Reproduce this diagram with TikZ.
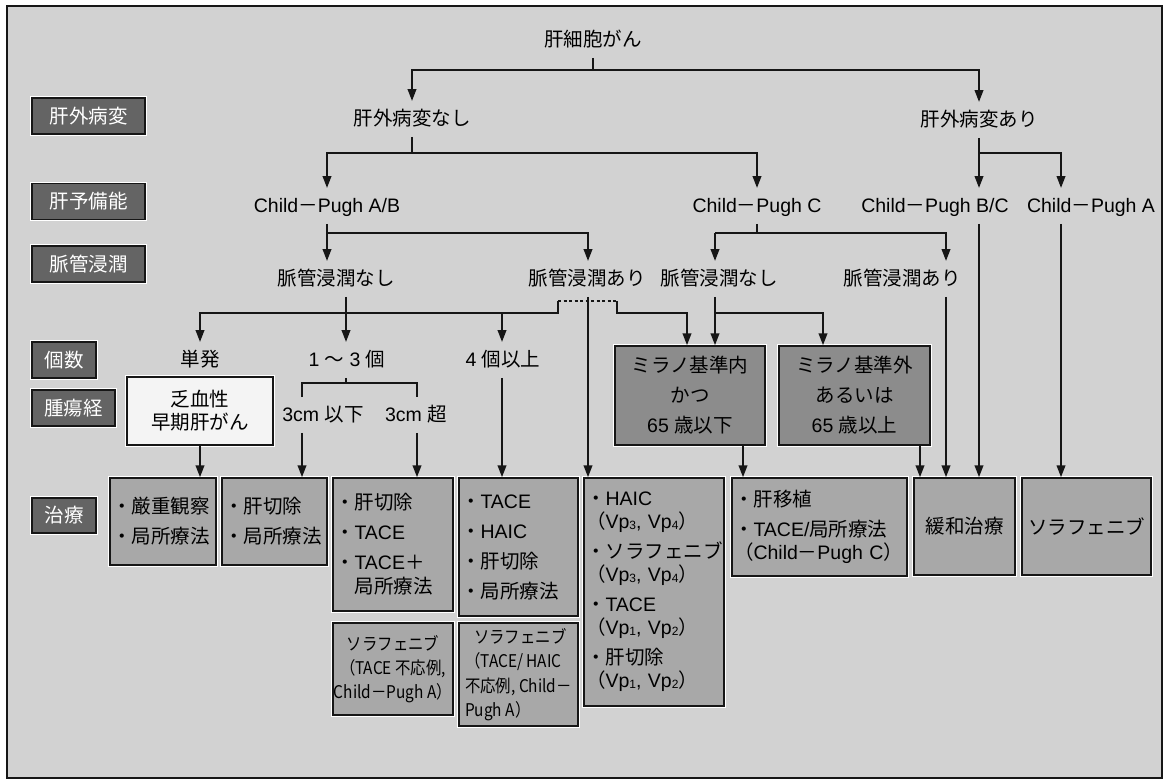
\documentclass[tikz,border=0pt]{standalone}
\usepackage{fontspec}
\setmainfont{Liberation Sans}
\newfontfamily\jp{Noto Sans CJK JP}
\newfontfamily\jpc[FakeStretch=0.88]{Noto Sans CJK JP}
\usetikzlibrary{arrows.meta}
\definecolor{bgc}{RGB}{210,210,210}
\definecolor{tboxc}{RGB}{168,168,168}
\definecolor{milc}{RGB}{140,140,140}
\definecolor{labc}{RGB}{100,100,100}
\definecolor{hypc}{RGB}{244,244,244}
\definecolor{linec}{RGB}{22,22,22}
\newcommand{\myfs}{\fontsize{19.5}{24}\selectfont}
\newcommand{\mysub}[1]{\raisebox{-1pt}{\fontsize{12}{12}\selectfont #1}}
\newcommand{\mydash}{{\jp －}}
\newcommand{\ltn}[1]{{\rmfamily #1}}
\begin{document}
\begin{tikzpicture}[x=1pt,y=-1pt,
  every node/.style={font=\myfs, text=black},
  lbl/.style={inner xsep=2pt, inner ysep=8pt, text height=16pt, text depth=3.5pt},
  jpl/.style={lbl, font=\myfs\jp},
  bx/.style={draw=linec, line width=1.4pt, preaction={draw=white, line width=3.6pt}, inner sep=0pt},
  side/.style={bx, fill=labc, text=white, font=\myfs\jp, minimum height=36pt},
  treat/.style={bx, fill=tboxc},
  ln/.style={line width=2.2pt, draw=linec},
  arr/.style={ln, -{Triangle[length=12pt,width=8.5pt]}},
  brdg/.style={line width=2.2pt, draw=linec, dash pattern=on 3pt off 2.5pt},
]
\useasboundingbox (0,0) rectangle (1166,782);
\fill[white] (0,0) rectangle (1166,782);
\draw[fill=bgc, draw=linec, line width=1.5pt] (7,6) rectangle (1162,778);

% left category labels
\node[side, minimum width=113pt] (L1) at (88.5,116) {肝外病変};
\node[side, minimum width=113pt] (L2) at (88.5,201.5) {肝予備能};
\node[side, minimum width=113pt] (L3) at (88.5,264) {脈管浸潤};
\node[side, minimum width=64pt] (L4) at (64,360) {個数};
\node[side, minimum width=83pt] (L5) at (73.5,408) {腫瘍経};
\node[side, minimum width=64pt, minimum height=35pt] (L6) at (64,515.5) {治療};

% decision labels
\node[jpl] (root) at (593,40) {肝細胞がん};
\node[jpl] (nashi1) at (412,119) {肝外病変なし};
\node[jpl] (ari1) at (979,120) {肝外病変あり};
\node[lbl] (cpab) at (327,206) {Child\mydash Pugh A/B};
\node[lbl] (cpc) at (757,206) {Child\mydash Pugh C};
\node[lbl] (cpbc) at (935,206) {Child\mydash Pugh B/C};
\node[lbl] (cpa) at (1091,206) {Child\mydash Pugh A};
\node[jpl] (vn1) at (336,279) {脈管浸潤なし};
\node[jpl] (va1) at (587,279) {脈管浸潤あり};
\node[jpl] (vn2) at (719,279) {脈管浸潤なし};
\node[jpl] (va2) at (902,279) {脈管浸潤あり};
\node[jpl] (tan) at (200,360) {単発};
\node[lbl] (n13) at (347,360) {1 {\jp ～} 3 {\jp 個}};
\node[lbl] (n4) at (503,360) {4 {\jp 個以上}};
\node[lbl] (le3) at (323,415) {3cm {\jp 以下}};
\node[lbl] (gt3) at (416,415) {3cm {\jp 超}};

% boxes
\node[bx, fill=hypc, minimum width=146pt, minimum height=68pt, align=center, font=\fontsize{19.5}{23}\selectfont\jp] (hypo) at (200,411) {乏血性\\早期肝がん};
\node[bx, fill=milc, minimum width=150pt, minimum height=99pt, align=center] (milin) at (690,395.5) {{\jp ミラノ基準内}\\[6pt]{\jp かつ}\\[6pt]65 {\jp 歳以下}};
\node[bx, fill=milc, minimum width=151pt, minimum height=99pt, align=center] (milout) at (854.5,395.5) {{\jp ミラノ基準外}\\[6pt]{\jp あるいは}\\[6pt]65 {\jp 歳以上}};

% treatment boxes
\node[treat, minimum width=106pt, minimum height=87pt, text width=102pt, inner xsep=2pt, align=left, font=\myfs\jp] (t1) at (163,521.5) {・厳重観察\\[6pt]・局所療法};
\node[treat, minimum width=105pt, minimum height=87pt, text width=101pt, inner xsep=2pt, align=left, font=\myfs\jp] (t2) at (274.5,521.5) {・肝切除\\[6pt]・局所療法};
\node[treat, minimum width=120pt, minimum height=133pt, text width=116pt, inner xsep=2pt, align=left, font=\myfs\jp] (t3) at (393,544.5) {・肝切除\\[6pt]・\ltn{TACE}\\[6pt]・\ltn{TACE}＋\\\hspace*{1em}局所療法};
\node[treat, minimum width=120pt, minimum height=92pt, align=center, font=\fontsize{17.5}{24}\selectfont\jpc] (t3b) at (393,669) {ソラフェニブ\\（TACE 不応例,\\Child－Pugh A）};
\node[treat, minimum width=119pt, minimum height=138pt, text width=115pt, inner xsep=2pt, align=left, font=\myfs\jp] (t4) at (518.5,547) {・\ltn{TACE}\\[6pt]・\ltn{HAIC}\\[6pt]・肝切除\\[6pt]・局所療法};
\node[treat, minimum width=119pt, minimum height=103pt, align=left, font=\fontsize{17.5}{24.5}\selectfont\jpc] (t4b) at (518.5,674.5) {\hspace*{9pt}ソラフェニブ\\（TACE/ HAIC\\不応例, Child－\\Pugh A）};
\node[treat, minimum width=140pt, minimum height=228pt, text width=136pt, inner xsep=2pt, align=left, font=\fontsize{19.5}{23}\selectfont\jp] (t5) at (654,592) {・\ltn{HAIC}\\（\ltn{Vp\mysub{3}, Vp\mysub{4}}）\\[7pt]・ソラフェニブ\\（\ltn{Vp\mysub{3}, Vp\mysub{4}}）\\[7pt]・\ltn{TACE}\\（\ltn{Vp\mysub{1}, Vp\mysub{2}}）\\[7pt]・肝切除\\（\ltn{Vp\mysub{1}, Vp\mysub{2}}）};
\node[treat, minimum width=175pt, minimum height=98pt, text width=171pt, inner xsep=2pt, align=left, font=\fontsize{19.5}{23}\selectfont\jp] (t6) at (819.5,527) {・肝移植\\[7pt]・\ltn{TACE/}局所療法\\（\ltn{Child}－\ltn{Pugh C}）};
\node[treat, minimum width=101pt, minimum height=97pt, font=\myfs\jp] (t7) at (964.5,526.5) {緩和治療};
\node[treat, minimum width=129pt, minimum height=97pt, font=\myfs\jp] (t8) at (1086.5,526.5) {ソラフェニブ};

% helper coordinates
\coordinate (r0) at (0,70);
\coordinate (r1) at (0,153);
\coordinate (r2) at (0,233);
\coordinate (r3) at (0,313);
\coordinate (r4) at (0,383);
\coordinate (rb) at (0,301);
\coordinate (x302) at (302,0);
\coordinate (x346) at (346,0);
\coordinate (x417) at (417,0);
\coordinate (x502) at (502,0);
\coordinate (x558) at (558,0);
\coordinate (x588) at (588,0);
\coordinate (x617) at (617,0);
\coordinate (x687) at (687,0);
\coordinate (x715) at (715,0);
\coordinate (x743) at (743,0);
\coordinate (x823) at (823,0);
\coordinate (x920) at (920,0);
\coordinate (x946) at (946,0);
\coordinate (x979) at (979,0);
\coordinate (x1061) at (1061,0);

% connectors
\draw[ln] (root.south) -- (root.south |- r0);
\draw[arr] (root.south |- r0) -| (nashi1.north);
\draw[arr] (root.south |- r0) -| (ari1.north);

\draw[ln] (nashi1.south) -- (nashi1.south |- r1);
\draw[arr] (nashi1.south |- r1) -| (cpab.north);
\draw[arr] (nashi1.south |- r1) -| (cpc.north);

\draw[arr] (ari1.south) -- (x979 |- cpbc.north);
\draw[arr] (ari1.south |- r1) -| (x1061 |- cpa.north);

\draw[arr] (cpab.south) -- (cpab.south |- vn1.north);
\draw[arr] (cpab.south |- r2) -| (x588 |- va1.north);

\draw[ln] (cpc.south) -- (cpc.south |- r2);
\draw[arr] (x715 |- r2) -- (x715 |- vn2.north);
\draw[arr] (x715 |- r2) -| (x946 |- va2.north);

\draw[arr] (x979 |- cpbc.south) -- (x979 |- t7.north);
\draw[arr] (x1061 |- cpa.south) -- (x1061 |- t8.north);

\draw[arr] (x346 |- vn1.south) -- (x346 |- n13.north);
\draw[arr] (x346 |- r3) -| (tan.north);
\draw[arr] (x346 |- r3) -| (x502 |- n4.north);
\draw[ln] (x502 |- r3) -- (x558 |- r3) -- (x558 |- rb);
\draw[brdg] (x558 |- rb) -- (x617 |- rb);
\draw[arr] (x617 |- rb) -- (x617 |- r3) -| (x687 |- milin.north);

\draw[arr] (x588 |- va1.south) -- (x588 |- t5.north);
\draw[arr] (x715 |- vn2.south) -- (x715 |- milin.north);
\draw[arr] (x715 |- r3) -| (x823 |- milout.north);
\draw[arr] (x946 |- va2.south) -- (x946 |- t7.north);

\draw[arr] (hypo.south) -- (hypo.south |- t1.north);
\draw[ln] (x346 |- n13.south) -- (x346 |- r4);
\draw[ln] (x302 |- le3.north) |- (x417 |- r4) -- (x417 |- gt3.north);
\draw[arr] (x302 |- le3.south) -- (x302 |- t2.north);
\draw[arr] (x417 |- gt3.south) -- (x417 |- t3.north);
\draw[arr] (x502 |- n4.south) -- (x502 |- t4.north);
\draw[arr] (x743 |- milin.south) -- (x743 |- t6.north);
\draw[arr] (x920 |- milout.south) -- (x920 |- t7.north);
\end{tikzpicture}
\end{document}
